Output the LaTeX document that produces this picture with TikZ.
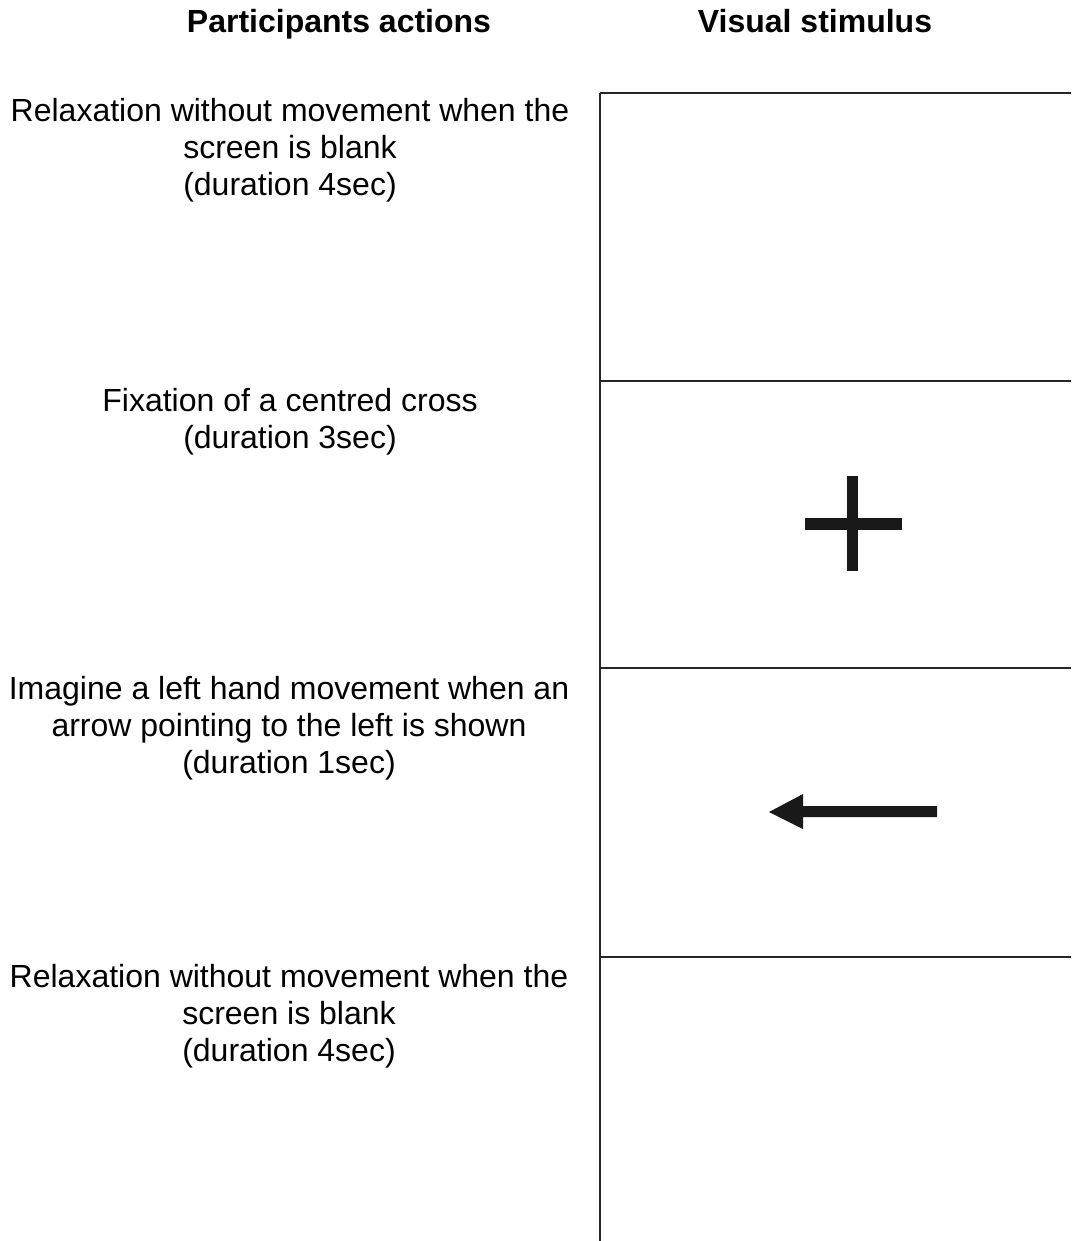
\documentclass[tikz,border=0pt]{standalone}
\usepackage{fontspec}
\setmainfont{Liberation Sans}
\begin{document}
\begin{tikzpicture}[x=1pt,y=-1pt,
  lbl/.style={inner sep=0pt,align=center,font=\fontsize{32}{37}\selectfont,anchor=base},
  head/.style={inner sep=0pt,font=\fontsize{32}{37}\selectfont\bfseries,anchor=base},
  frame/.style={line width=1.4pt,draw=black!85},
  symb/.style={fill=black!90,draw=none}]
\useasboundingbox (0,0) rectangle (1071,1241);
% headings
\node[head] (h1) at (339,33) {Participants actions};
\node[head] (h2) at (815,33) {Visual stimulus};
% texts (base anchor = baseline of last line)
\node[lbl] (t1) at (290,196) {Relaxation without movement when the\\screen is blank\\(duration 4sec)};
\node[lbl] (t2) at (290,448) {Fixation of a centred cross\\(duration 3sec)};
\node[lbl] (t3) at (289,773) {Imagine a left hand movement when an\\arrow pointing to the left is shown\\(duration 1sec)};
\node[lbl] (t4) at (289,1061) {Relaxation without movement when the\\screen is blank\\(duration 4sec)};
% frames
\coordinate (L0) at (600,93);
\coordinate (L1) at (600,381);
\coordinate (L2) at (600,668);
\coordinate (L3) at (600,957);
\coordinate (Lb) at (600,1241);
\coordinate (R0) at (1071,93);
\coordinate (R1) at (1071,381);
\coordinate (R2) at (1071,668);
\coordinate (R3) at (1071,957);
\draw[frame] (L0) -- (Lb);
\draw[frame] (L0) -- (R0);
\draw[frame] (L1) -- (R1);
\draw[frame] (L2) -- (R2);
\draw[frame] (L3) -- (R3);
% cross
\fill[symb] (847,476) rectangle (858,571);
\fill[symb] (805,518) rectangle (902,530);
% arrow
\fill[symb] (769,812) -- (803,794) -- (803,806) -- (937,806) -- (937,817) -- (803,817) -- (803,829) -- cycle;
\end{tikzpicture}
\end{document}
